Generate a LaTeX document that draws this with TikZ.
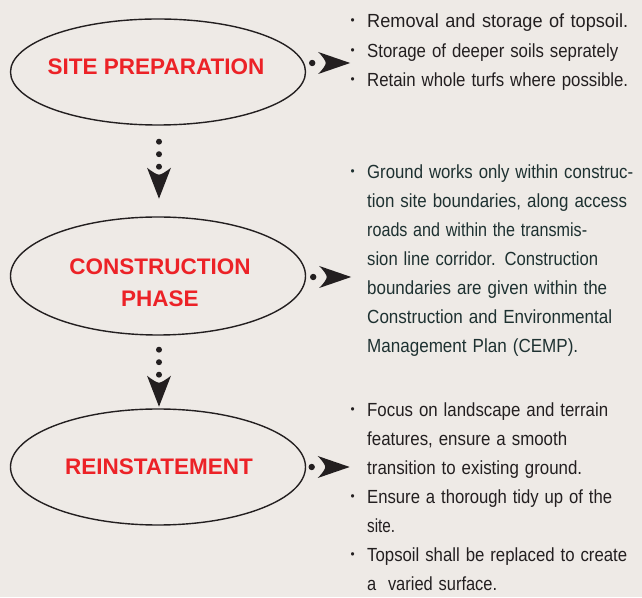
\documentclass[tikz,border=0pt]{standalone}
\usepackage{fontspec}
\usepackage{graphicx}
\setmainfont{Liberation Sans}
\newfontfamily\bodyfont[FakeStretch=0.94]{Liberation Sans}
\usetikzlibrary{shapes.geometric,calc}
\definecolor{bg}{HTML}{EEEAE6}
\definecolor{titlered}{HTML}{EC2227}
\definecolor{bodytxt}{HTML}{231F20}
\definecolor{bodyteal}{HTML}{1E3131}
\newcommand\bul{\makebox[17pt][l]{\hspace*{0.5pt}\raisebox{3.2pt}{\fontsize{12.5}{12}\selectfont •}}}
\newcommand\ind{\hspace*{17pt}}
\newsavebox\linebox
\newcommand\fitl[2]{\sbox\linebox{#2}\scalebox{\fpeval{#1/\wd\linebox}}[1]{\usebox\linebox}}
\tikzset{
  phase/.style={ellipse, draw=bodytxt, line width=1.4pt, minimum width=295pt, inner sep=0pt},
  titletxt/.style={inner sep=0pt, text=titlered, align=center, font=\fontsize{22.5}{32}\selectfont\bfseries},
  desc/.style={anchor=base west, inner sep=0pt, text width=420pt, align=left, text=bodytxt},
  rarrow/.pic={
    \fill[bodytxt] (0,0) circle (3.2);
    \fill[bodytxt] (38,0) -- (6,11) .. controls (11,6) and (13.5,2) .. (13.5,0)
       .. controls (13.5,-2) and (11,-6) .. (6,-11) -- cycle;
  },
  darrow/.pic={
    \fill[bodytxt] (0,0) circle (3);
    \fill[bodytxt] (0,-12.5) circle (3);
    \fill[bodytxt] (0,-25) circle (3);
    \fill[bodytxt] (0,-57) -- (-12,-26) .. controls (-7,-30) and (-2,-33) .. (0,-33)
       .. controls (2,-33) and (7,-30) .. (12,-26) -- cycle;
  }
}
\begin{document}
\begin{tikzpicture}[x=1pt,y=1pt]
\fill[bg] (0,0) rectangle (642,597);
\useasboundingbox (0,0) rectangle (642,597);

\node[phase, minimum height=106pt] (e1) at (158,525) {};
\node[phase, minimum height=118pt] (e2) at (158,321) {};
\node[phase, minimum height=116pt] (e3) at (158,130) {};

\node[titletxt, anchor=base] (t1) at (156,522) {SITE PREPARATION};
\node[titletxt, anchor=center] (t2) at (160,314) {CONSTRUCTION\\PHASE};
\node[titletxt, anchor=base] (t3) at (159,122) {REINSTATEMENT};

\pic at ($(e1.south)+(1,-16)$) {darrow};
\pic at ($(e2.south)+(1,-14)$) {darrow};

\pic at ($(e1.east)+(6,9)$) {rarrow};
\pic at ($(e2.east)+(7,-1)$) {rarrow};
\pic at ($(e3.east)+(5.5,0)$) {rarrow};

\node[desc, font=\bodyfont\fontsize{19}{29.4}\selectfont] (d1) at (350,569) {%
\bul\fitl{261}{Removal and storage of topsoil.}\\
\bul\fitl{251}{Storage of deeper soils seprately}\\
\bul\fitl{261}{Retain whole turfs where possible.}};

\node[desc, text=bodyteal, font=\bodyfont\fontsize{19}{28.9}\selectfont] (d2) at (350,418) {%
\bul\fitl{266}{Ground works only within construc-}\\
\ind\fitl{260}{tion site boundaries, along access}\\
\ind\fitl{220}{roads and within the transmis-}\\
\ind\fitl{231}{sion line corridor. Construction}\\
\ind\fitl{240}{boundaries are given within the}\\
\ind\fitl{245}{Construction and Environmental}\\
\ind\fitl{211}{Management Plan (CEMP).}};

\node[desc, font=\bodyfont\fontsize{19}{28.9}\selectfont] (d3) at (350,180) {%
\bul\fitl{241}{Focus on landscape and terrain}\\
\ind\fitl{200}{features, ensure a smooth}\\
\ind\fitl{215}{transition to existing ground.}\\
\bul\fitl{245}{Ensure a thorough tidy up of the}\\
\ind\fitl{28}{site.}\\
\bul\fitl{260}{Topsoil shall be replaced to create}\\
\ind\fitl{130}{a\ \ varied surface.}};
\end{tikzpicture}
\end{document}
